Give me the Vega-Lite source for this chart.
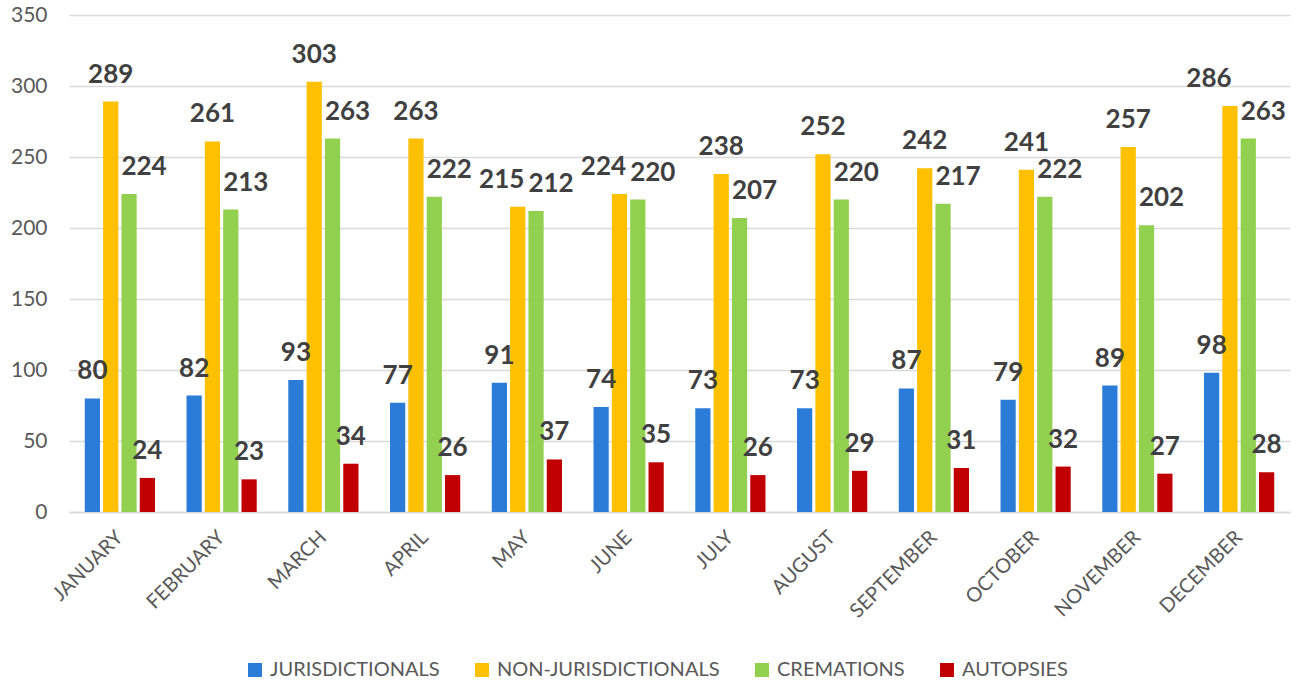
{
  "$schema": "https://vega.github.io/schema/vega-lite/v6.json",
  "width": 1221,
  "height": 497,
  "autosize": "none",
  "padding": {"left": 69, "top": 15, "right": 7, "bottom": 170},
  "background": "white",
  "config": {
    "view": {"stroke": null},
    "font": "Lato"
  },
  "data": {
    "values": [
      {"month": "JANUARY", "series": "JURISDICTIONALS", "value": 80},
      {"month": "JANUARY", "series": "NON-JURISDICTIONALS", "value": 289},
      {"month": "JANUARY", "series": "CREMATIONS", "value": 224},
      {"month": "JANUARY", "series": "AUTOPSIES", "value": 24},
      {"month": "FEBRUARY", "series": "JURISDICTIONALS", "value": 82},
      {"month": "FEBRUARY", "series": "NON-JURISDICTIONALS", "value": 261},
      {"month": "FEBRUARY", "series": "CREMATIONS", "value": 213},
      {"month": "FEBRUARY", "series": "AUTOPSIES", "value": 23},
      {"month": "MARCH", "series": "JURISDICTIONALS", "value": 93},
      {"month": "MARCH", "series": "NON-JURISDICTIONALS", "value": 303},
      {"month": "MARCH", "series": "CREMATIONS", "value": 263},
      {"month": "MARCH", "series": "AUTOPSIES", "value": 34},
      {"month": "APRIL", "series": "JURISDICTIONALS", "value": 77},
      {"month": "APRIL", "series": "NON-JURISDICTIONALS", "value": 263},
      {"month": "APRIL", "series": "CREMATIONS", "value": 222},
      {"month": "APRIL", "series": "AUTOPSIES", "value": 26},
      {"month": "MAY", "series": "JURISDICTIONALS", "value": 91},
      {"month": "MAY", "series": "NON-JURISDICTIONALS", "value": 215},
      {"month": "MAY", "series": "CREMATIONS", "value": 212},
      {"month": "MAY", "series": "AUTOPSIES", "value": 37},
      {"month": "JUNE", "series": "JURISDICTIONALS", "value": 74},
      {"month": "JUNE", "series": "NON-JURISDICTIONALS", "value": 224},
      {"month": "JUNE", "series": "CREMATIONS", "value": 220},
      {"month": "JUNE", "series": "AUTOPSIES", "value": 35},
      {"month": "JULY", "series": "JURISDICTIONALS", "value": 73},
      {"month": "JULY", "series": "NON-JURISDICTIONALS", "value": 238},
      {"month": "JULY", "series": "CREMATIONS", "value": 207},
      {"month": "JULY", "series": "AUTOPSIES", "value": 26},
      {"month": "AUGUST", "series": "JURISDICTIONALS", "value": 73},
      {"month": "AUGUST", "series": "NON-JURISDICTIONALS", "value": 252},
      {"month": "AUGUST", "series": "CREMATIONS", "value": 220},
      {"month": "AUGUST", "series": "AUTOPSIES", "value": 29},
      {"month": "SEPTEMBER", "series": "JURISDICTIONALS", "value": 87},
      {"month": "SEPTEMBER", "series": "NON-JURISDICTIONALS", "value": 242},
      {"month": "SEPTEMBER", "series": "CREMATIONS", "value": 217},
      {"month": "SEPTEMBER", "series": "AUTOPSIES", "value": 31},
      {"month": "OCTOBER", "series": "JURISDICTIONALS", "value": 79},
      {"month": "OCTOBER", "series": "NON-JURISDICTIONALS", "value": 241},
      {"month": "OCTOBER", "series": "CREMATIONS", "value": 222},
      {"month": "OCTOBER", "series": "AUTOPSIES", "value": 32},
      {"month": "NOVEMBER", "series": "JURISDICTIONALS", "value": 89},
      {"month": "NOVEMBER", "series": "NON-JURISDICTIONALS", "value": 257},
      {"month": "NOVEMBER", "series": "CREMATIONS", "value": 202},
      {"month": "NOVEMBER", "series": "AUTOPSIES", "value": 27},
      {"month": "DECEMBER", "series": "JURISDICTIONALS", "value": 98},
      {"month": "DECEMBER", "series": "NON-JURISDICTIONALS", "value": 286},
      {"month": "DECEMBER", "series": "CREMATIONS", "value": 263},
      {"month": "DECEMBER", "series": "AUTOPSIES", "value": 28}
    ]
  },
  "encoding": {
    "x": {
      "field": "month",
      "type": "nominal",
      "sort": ["JANUARY","FEBRUARY","MARCH","APRIL","MAY","JUNE","JULY","AUGUST","SEPTEMBER","OCTOBER","NOVEMBER","DECEMBER"],
      "scale": {"paddingInner": 0.31, "paddingOuter": 0.155},
      "axis": {
        "title": null,
        "labelAngle": -45,
        "labelAlign": "right",
        "labelBaseline": "middle",
        "labelFontSize": 20,
        "labelColor": "#595959",
        "labelPadding": 22,
        "labelLimit": 0,
        "ticks": false,
        "domainColor": "#D9D9D9",
        "domainWidth": 1.5,
        "grid": false
      }
    },
    "xOffset": {
      "field": "series",
      "type": "nominal",
      "sort": ["JURISDICTIONALS","NON-JURISDICTIONALS","CREMATIONS","AUTOPSIES"],
      "scale": {"paddingInner": 0.17, "paddingOuter": 0}
    },
    "y": {
      "field": "value",
      "type": "quantitative",
      "scale": {"domain": [0, 350], "nice": false},
      "axis": {
        "title": null,
        "values": [0,50,100,150,200,250,300,350],
        "labelFontSize": 21,
        "labelColor": "#595959",
        "labelPadding": 22,
        "ticks": false,
        "domain": false,
        "gridColor": "#D9D9D9",
        "gridWidth": 1.5
      }
    }
  },
  "layer": [
    {
      "mark": {"type": "bar"},
      "encoding": {
        "color": {
          "field": "series",
          "type": "nominal",
          "sort": ["JURISDICTIONALS","NON-JURISDICTIONALS","CREMATIONS","AUTOPSIES"],
          "scale": {
            "domain": ["JURISDICTIONALS","NON-JURISDICTIONALS","CREMATIONS","AUTOPSIES"],
            "range": ["#2B7CD8","#FFC000","#92D050","#C00000"]
          },
          "legend": {
            "title": null,
            "orient": "none",
            "legendX": 176,
            "legendY": 645,
            "direction": "horizontal",
            "labelFontSize": 20,
            "labelColor": "#595959",
            "labelLimit": 0,
            "symbolType": "square",
            "symbolSize": 196,
            "symbolStrokeWidth": 0,
            "columnPadding": 32,
            "labelOffset": 5
          }
        }
      }
    },
    {
      "transform": [
        {"filter": "datum.series !== 'CREMATIONS' && !(datum.series === 'NON-JURISDICTIONALS' && (datum.month === 'MAY' || datum.month === 'JUNE' || datum.month === 'DECEMBER'))"}
      ],
      "mark": {"type": "text", "fontSize": 26, "fontWeight": "bold", "color": "#404040", "baseline": "alphabetic", "dy": -19},
      "encoding": {"text": {"field": "value", "type": "quantitative"}}
    },
    {
      "transform": [{"filter": "datum.series === 'CREMATIONS'"}],
      "mark": {"type": "text", "fontSize": 26, "fontWeight": "bold", "color": "#404040", "baseline": "alphabetic", "dy": -19, "dx": 15},
      "encoding": {"text": {"field": "value", "type": "quantitative"}}
    },
    {
      "transform": [{"filter": "datum.series === 'NON-JURISDICTIONALS' && (datum.month === 'MAY' || datum.month === 'JUNE')"}],
      "mark": {"type": "text", "fontSize": 26, "fontWeight": "bold", "color": "#404040", "baseline": "alphabetic", "dy": -19, "dx": -16},
      "encoding": {"text": {"field": "value", "type": "quantitative"}}
    },
    {
      "transform": [{"filter": "datum.series === 'NON-JURISDICTIONALS' && datum.month === 'DECEMBER'"}],
      "mark": {"type": "text", "fontSize": 26, "fontWeight": "bold", "color": "#404040", "baseline": "alphabetic", "dy": -19, "dx": -21},
      "encoding": {"text": {"field": "value", "type": "quantitative"}}
    }
  ]
}
